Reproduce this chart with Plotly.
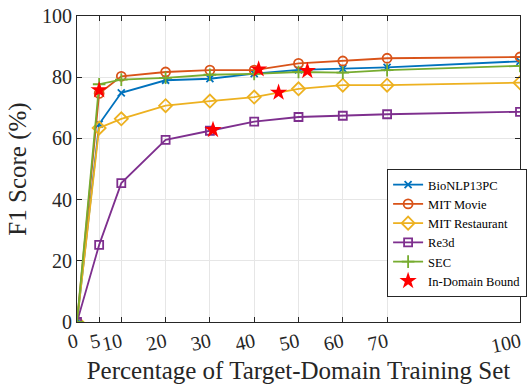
import plotly.graph_objects as go

x_pct = [0, 5, 10, 20, 30, 40, 50, 60, 70, 100]
bionlp = [0, 64.7, 74.9, 79.0, 79.5, 81.2, 82.4, 82.8, 83.2, 85.2]
mit_movie = [0, 74.7, 80.3, 81.7, 82.3, 82.3, 84.5, 85.3, 86.2, 86.6]
mit_rest = [0, 63.4, 66.4, 70.7, 72.2, 73.5, 76.2, 77.4, 77.4, 78.2]
re3d = [0, 25.2, 45.4, 59.5, 62.5, 65.5, 67.0, 67.4, 67.9, 68.7]
sec = [0, 77.7, 79.2, 79.8, 80.8, 81.1, 81.7, 81.5, 82.3, 83.7]
bound_x = [5, 41.0, 45.5, 30.7, 52.0]
bound_y = [75.8, 82.6, 75.0, 62.8, 82.1]

series = [
    ("BioNLP13PC", bionlp, "#0072BD", "x-thin-open", 7),
    ("MIT Movie", mit_movie, "#D95319", "circle-open", 9),
    ("MIT Restaurant", mit_rest, "#EDB120", "diamond-open", 10),
    ("Re3d", re3d, "#7E2F8E", "square-open", 8),
    ("SEC", sec, "#77AC30", "cross-thin-open", 9),
]

fig = go.Figure()
for name, ys, color, sym, size in series:
    fig.add_trace(go.Scatter(
        x=x_pct, y=ys, name=name, mode="lines+markers",
        line=dict(color=color, width=1.8),
        marker=dict(symbol=sym, size=size, color=color, line=dict(color=color, width=1.8)),
    ))
fig.add_trace(go.Scatter(
    x=bound_x, y=bound_y, name="In-Domain Bound", mode="markers",
    marker=dict(symbol="star", size=13, color="#FF0000", line=dict(width=0)),
))

font_family = "Liberation Serif"
axis_common = dict(
    showgrid=True, gridcolor="#e6e6e6", gridwidth=1,
    showline=True, linecolor="#262626", linewidth=1, mirror="ticks",
    ticks="inside", ticklen=5, tickcolor="#262626",
    zeroline=False, tickfont=dict(size=20, color="#262626", family=font_family),
)
fig.update_layout(
    width=532, height=389,
    margin=dict(l=77, r=5, t=13, b=67),
    paper_bgcolor="white", plot_bgcolor="white",
    font=dict(family=font_family, color="#262626"),
    showlegend=True,
    legend=dict(
        x=0.70, y=0.50, xanchor="left", yanchor="top",
        bgcolor="white", bordercolor="#262626", borderwidth=1,
        font=dict(size=12.5, family=font_family, color="#000000"),
        itemwidth=30, tracegroupgap=0,
    ),
    xaxis=dict(
        range=[0, 100], tickvals=x_pct, ticktext=[str(v) for v in x_pct],
        tickangle=-12,
        title=dict(text="Percentage of Target-Domain Training Set", font=dict(size=25, family=font_family), standoff=4),
        **axis_common,
    ),
    yaxis=dict(
        range=[0, 100], tickvals=[0, 20, 40, 60, 80, 100],
        title=dict(text="F1 Score (%)", font=dict(size=25, family=font_family), standoff=8),
        **axis_common,
    ),
)

fig.write_html("out.html")
